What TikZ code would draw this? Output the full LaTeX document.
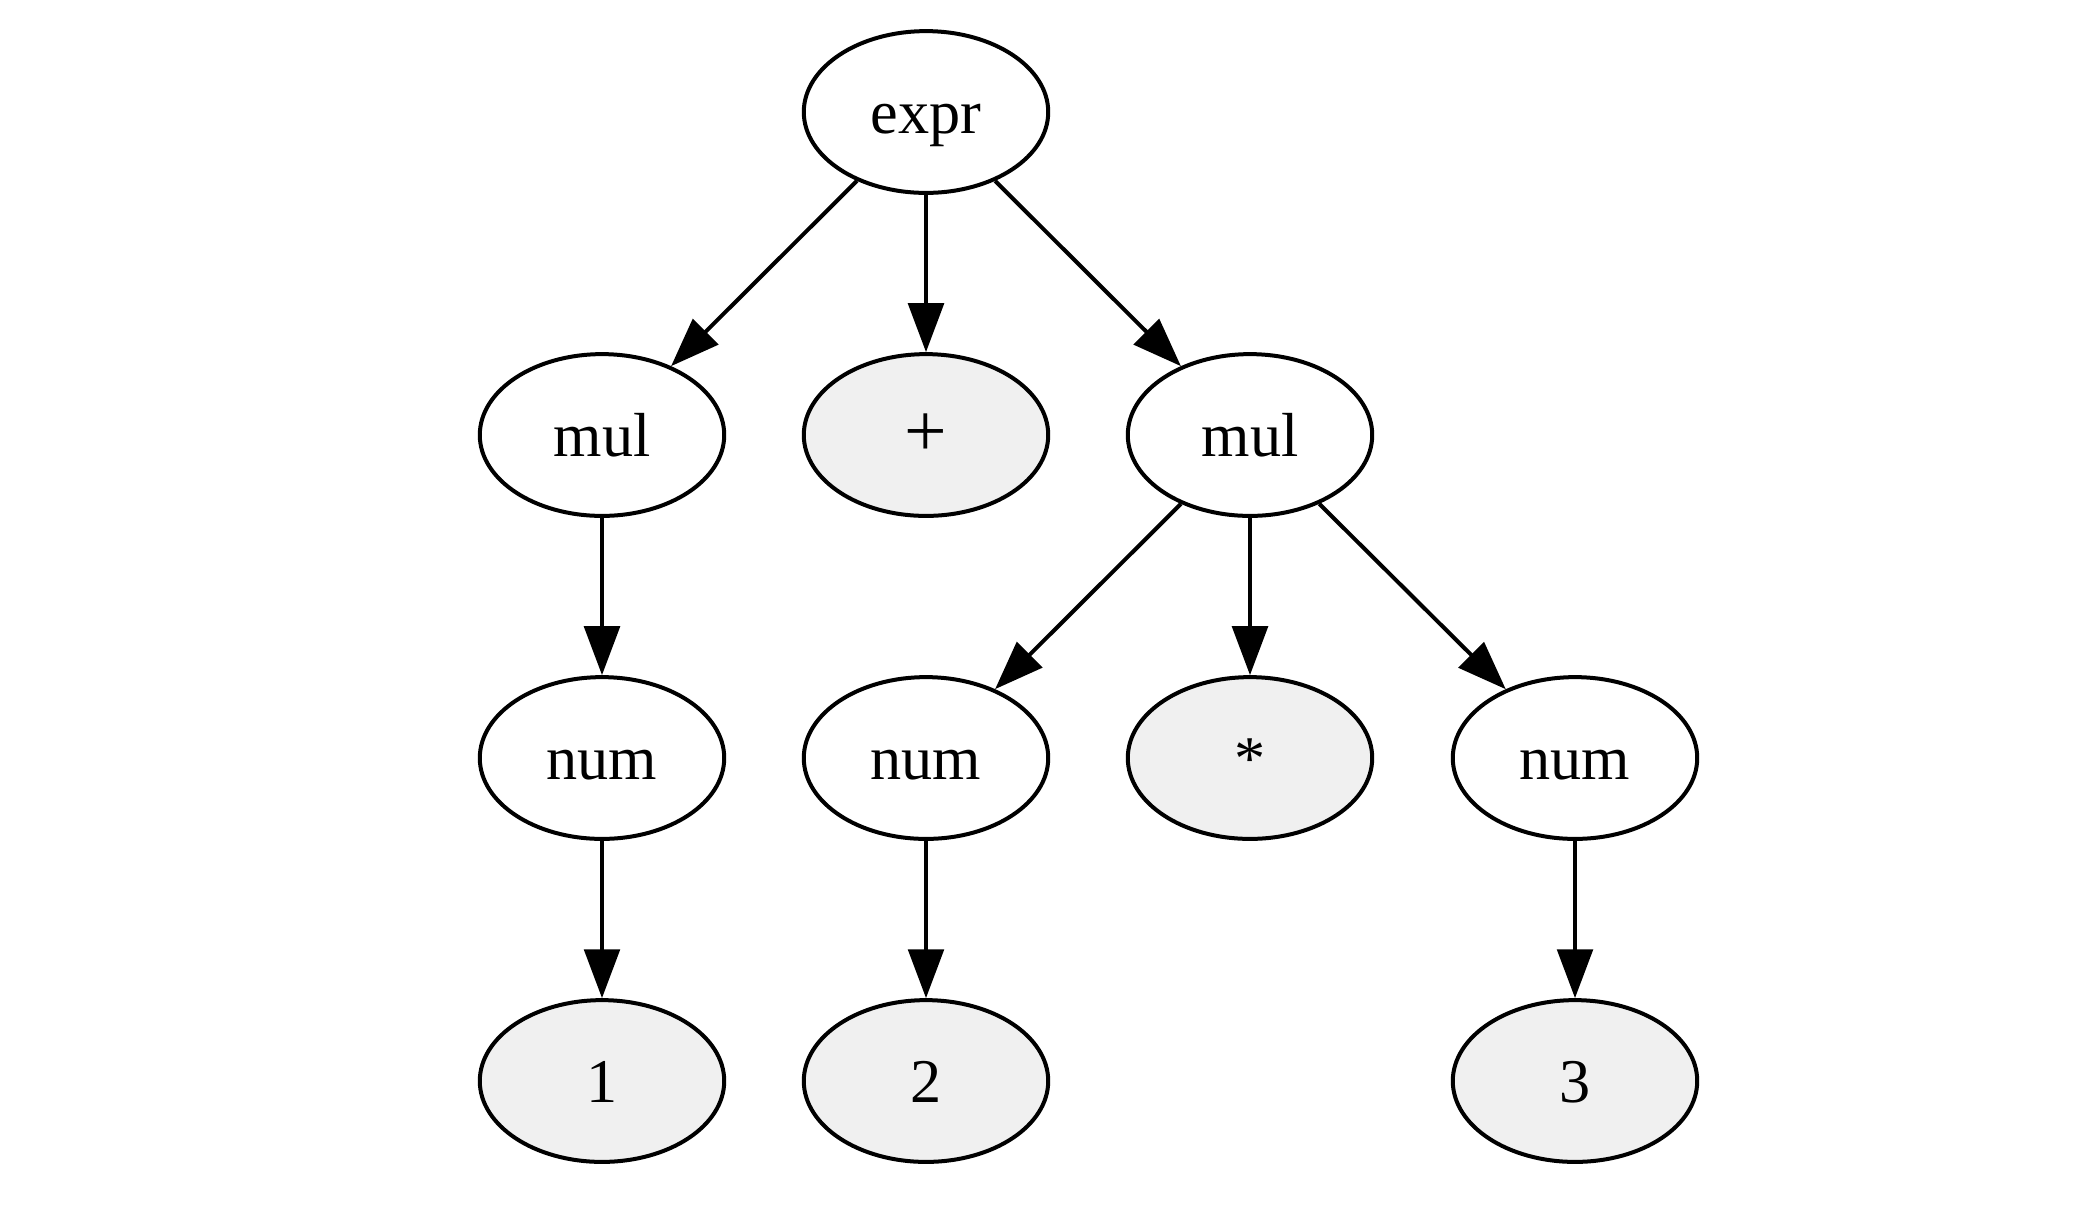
\documentclass[tikz,border=0pt]{standalone}
\usepackage{fontspec}
\setmainfont{Liberation Serif}
\usetikzlibrary{arrows.meta,shapes.geometric}
\definecolor{leafgray}{HTML}{F0F0F0}
\begin{document}
\begin{tikzpicture}[x=0.225pt,y=-0.225pt,
  tnode/.style={ellipse, draw=black, line width=0.9pt, minimum width=55pt, minimum height=36.4pt, inner sep=0pt, text height=9.6pt, text depth=0pt, font=\fontsize{14}{16}\selectfont, fill=white},
  leaf/.style={tnode, fill=leafgray},
  edge/.style={draw=black, line width=0.9pt, -{Triangle[length=11pt,width=8pt]}}]
\useasboundingbox (0,0) rectangle (2084,1214);
\node[tnode] (expr) at (926,112) {expr};
\node[tnode] (mulL) at (602,435) {mul};
\node[leaf]  (plus) at (926,435) {\fontsize{17}{17}\selectfont +};
\node[tnode] (mulR) at (1250,435) {mul};
\node[tnode] (numA) at (602,758) {num};
\node[tnode] (numB) at (926,758) {num};
\node[leaf]  (star) at (1250,758) {*};
\node[tnode] (numC) at (1575,758) {num};
\node[leaf]  (one) at (602,1081) {1};
\node[leaf]  (two) at (926,1081) {2};
\node[leaf]  (three) at (1575,1081) {3};
\draw[edge] (expr) -- (mulL);
\draw[edge] (expr) -- (plus);
\draw[edge] (expr) -- (mulR);
\draw[edge] (mulL) -- (numA);
\draw[edge] (mulR) -- (numB);
\draw[edge] (mulR) -- (star);
\draw[edge] (mulR) -- (numC);
\draw[edge] (numA) -- (one);
\draw[edge] (numB) -- (two);
\draw[edge] (numC) -- (three);
\end{tikzpicture}
\end{document}
